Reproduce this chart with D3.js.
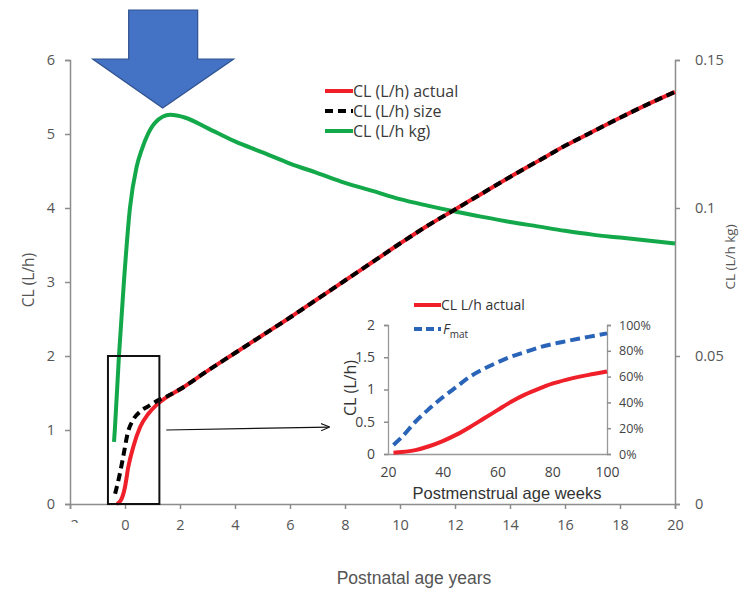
<!DOCTYPE html>
<html><head><meta charset="utf-8">
<script src="https://cdn.jsdelivr.net/npm/d3@7"></script>
<style>body{margin:0;background:#fff}svg{display:block}text{font-family:"Open Sans","Liberation Sans",sans-serif}</style>
</head><body><svg id="c" width="747" height="589"></svg>
<script>
// ---- main chart data ----
const actualAge = [-0.3,-0.15,0,0.12,0.3,0.55,0.85,1.15,1.5,2,3,4,5,6,7,8,9,10,11,12,13,14,15,16,17,18,19,20];
const actualCL  = [0,0.05,0.23,0.5,0.77,1.04,1.22,1.34,1.44,1.55,1.8,2.04,2.28,2.52,2.77,3.02,3.27,3.52,3.76,3.98,4.2,4.42,4.63,4.84,5.03,5.22,5.4,5.57];
const sizeAge = [-0.36,-0.18,-0.04,0.1,0.3,0.55,0.84,1.2,1.5,2,3,4,5,6,7,8,9,10,11,12,13,14,15,16,17,18,19,20];
const sizeCL  = [0.14,0.42,0.69,0.96,1.14,1.25,1.32,1.4,1.45,1.55,1.8,2.04,2.28,2.52,2.77,3.02,3.27,3.52,3.76,3.98,4.2,4.42,4.63,4.84,5.03,5.22,5.4,5.57];
const kgAge = [-0.4,-0.37,-0.22,-0.04,0.18,0.42,0.6,0.85,1.09,1.64,2.2,3,4,5,6,7,8,9,10,11,12,13,14,15,16,17,18,19,20];
const kgCL  = [0.021,0.025,0.05,0.075,0.1,0.1138,0.1195,0.1253,0.1288,0.1315,0.1305,0.127,0.1225,0.1188,0.115,0.1118,0.1085,0.1058,0.103,0.1008,0.0988,0.097,0.0953,0.0938,0.0923,0.091,0.09,0.089,0.088];
const xTicks = [-2,0,2,4,6,8,10,12,14,16,18,20];
const yLeftTicks = [0,1,2,3,4,5,6];
const yRightTicks = [0,0.05,0.1,0.15];
const legendLabels = ["CL (L/h) actual","CL (L/h) size","CL (L/h kg)"];
// ---- inset data ----
const pmaWeeks = [22,25,30,35,40,45,50,55,60,65,70,75,80,85,90,95,100];
const insetCL  = [0.02,0.03,0.06,0.12,0.2,0.3,0.42,0.55,0.68,0.81,0.92,1.01,1.09,1.15,1.2,1.24,1.28];
const fmat     = [0.07,0.13,0.25,0.35,0.44,0.52,0.60,0.66,0.71,0.755,0.79,0.825,0.852,0.874,0.895,0.915,0.935];
const insetXTicks = [20,40,60,80,100];
const insetYTicks = [0,0.5,1,1.5,2];
const insetRTicks = [0,0.2,0.4,0.6,0.8,1];

const svg = d3.select("#c");
const defs = svg.append("defs");
const tc = "#555", ac = "#8c8c8c";

const x = d3.scaleLinear().domain([-2,20]).range([70,675]);
const yL = d3.scaleLinear().domain([0,6]).range([504,60]);
const yR = d3.scaleLinear().domain([0,0.15]).range([504,60]);

function styleAxis(g, fs, col){
  g.select(".domain").attr("stroke",ac).attr("stroke-width",1.5);
  g.selectAll(".tick line").attr("stroke",ac).attr("stroke-width",1.5);
  g.selectAll("text").attr("fill",col||tc).style("font-size",fs+"px").style("font-family","'Open Sans',sans-serif");
}

const gx = svg.append("g").attr("transform","translate(0,504)")
  .call(d3.axisBottom(x).tickValues(xTicks).tickSize(5).tickPadding(11).tickFormat(d3.format("d")));
styleAxis(gx,14.5);
// the -2 label is cut off in the original, only its top shows
defs.append("clipPath").attr("id","clipm2").append("rect").attr("x",-15).attr("y",15).attr("width",30).attr("height",4);
gx.selectAll(".tick").filter(d=>d===-2).select("text").attr("clip-path","url(#clipm2)");

const gyl = svg.append("g").attr("transform","translate(70,0)")
  .call(d3.axisLeft(yL).tickValues(yLeftTicks).tickSize(5).tickPadding(10).tickFormat(d3.format("d")));
styleAxis(gyl,14.5);
const gyr = svg.append("g").attr("transform","translate(675,0)")
  .call(d3.axisRight(yR).tickValues(yRightTicks).tickSize(5).tickPadding(15).tickFormat(d=>String(d)));
styleAxis(gyr,14.5);

svg.append("text").attr("transform","translate(34,280) rotate(-90)").attr("text-anchor","middle")
  .attr("fill",tc).style("font-size","15.5px").text("CL (L/h)");
svg.append("text").attr("transform","translate(735,257) rotate(-90)").attr("text-anchor","middle")
  .attr("fill",tc).style("font-size","13.5px").text("CL (L/h kg)");
svg.append("text").attr("x",414).attr("y",584).attr("text-anchor","middle")
  .attr("fill",tc).style("font-size","17.5px").style("font-family","'Liberation Sans',Arial,sans-serif").text("Postnatal age years");

// lines
const lineL = d3.line().x(d=>x(d[0])).y(d=>yL(d[1])).curve(d3.curveMonotoneX);
const lineR = d3.line().x(d=>x(d[0])).y(d=>yR(d[1])).curve(d3.curveMonotoneX);
const green="#13a84a", red="#f0202a";
svg.append("path").datum(kgAge.map((a,i)=>[a,kgCL[i]])).attr("d",lineR)
  .attr("fill","none").attr("stroke",green).attr("stroke-width",4);
svg.append("path").datum(actualAge.map((a,i)=>[a,actualCL[i]])).attr("d",lineL)
  .attr("fill","none").attr("stroke",red).attr("stroke-width",4);
svg.append("path").datum(sizeAge.map((a,i)=>[a,sizeCL[i]])).attr("d",lineL)
  .attr("fill","none").attr("stroke","#000").attr("stroke-width",4).attr("stroke-dasharray","8,5");

// legend
const legY=[91,111,131];
const legStyles=[{c:red,d:null},{c:"#000",d:"8,5"},{c:green,d:null}];
legendLabels.forEach((lab,i)=>{
  svg.append("line").attr("x1",325).attr("x2",353).attr("y1",legY[i]).attr("y2",legY[i])
    .attr("stroke",legStyles[i].c).attr("stroke-width",4).attr("stroke-dasharray",legStyles[i].d);
  svg.append("text").attr("x",353).attr("y",legY[i]+5.5).attr("fill","#3a3a3a").style("font-size","16px").text(lab);
});

// zoom box and pointer
svg.append("rect").attr("x",x(-0.62)).attr("y",yL(2)).attr("width",x(1.25)-x(-0.62)).attr("height",yL(0)-yL(2))
  .attr("fill","none").attr("stroke","#111").attr("stroke-width",2);
defs.append("marker").attr("id","ah").attr("viewBox","0 0 10 10").attr("refX",9).attr("refY",5)
  .attr("markerWidth",9).attr("markerHeight",9).attr("orient","auto").attr("markerUnits","userSpaceOnUse")
  .append("path").attr("d","M0,1 L10,5 L0,9").attr("fill","none").attr("stroke","#111").attr("stroke-width",1.3);
svg.append("line").attr("x1",x(1.5)).attr("y1",yL(1.0)).attr("x2",329).attr("y2",yL(1.04))
  .attr("stroke","#111").attr("stroke-width",1.2).attr("marker-end","url(#ah)");

// big blue arrow (annotation pointing at the peak)
const tx=x(1.37), ty=108;
const arrowPts=[[tx-34,10],[tx+35,10],[tx+35,59],[tx+71,59],[tx,ty],[tx-70,59],[tx-34,59]];
svg.append("polygon").attr("points",arrowPts.map(p=>p.join(",")).join(" "))
  .attr("fill","#4472c4").attr("stroke","#2f528f").attr("stroke-width",1.2);

// ---- inset ----
const ix = d3.scaleLinear().domain([20,100]).range([388,607]);
const iy = d3.scaleLinear().domain([0,2]).range([454,325]);
const iyr = d3.scaleLinear().domain([0,1]).range([454,325]);
const gix = svg.append("g").attr("transform","translate(0,454)")
  .call(d3.axisBottom(ix).tickValues(insetXTicks).tickSize(0).tickPadding(13));
styleAxis(gix,14,"#444");
const giy = svg.append("g").attr("transform","translate(388,0)")
  .call(d3.axisLeft(iy).tickValues(insetYTicks).tickSize(4).tickPadding(9).tickFormat(d=>String(d)));
styleAxis(giy,14,"#444");
const giyr = svg.append("g").attr("transform","translate(607,0)")
  .call(d3.axisRight(iyr).tickValues(insetRTicks).tickSize(4).tickPadding(8).tickFormat(d3.format(".0%")));
styleAxis(giyr,12.5,"#444");
[gix,giy,giyr].forEach(g=>{g.select(".domain").attr("stroke","#999").attr("stroke-width",1.3);});

svg.append("text").attr("transform","translate(356,388) rotate(-90)").attr("text-anchor","middle")
  .attr("fill","#333").style("font-size","16px").text("CL (L/h)");
svg.append("text").attr("x",507).attr("y",499).attr("text-anchor","middle")
  .attr("fill","#333").style("font-size","16.5px").style("font-family","'Liberation Sans',Arial,sans-serif").text("Postmenstrual  age weeks");

const il = d3.line().x(d=>ix(d[0])).y(d=>iy(d[1])).curve(d3.curveMonotoneX);
const ilr = d3.line().x(d=>ix(d[0])).y(d=>iyr(d[1])).curve(d3.curveMonotoneX);
const blue="#2a64b8";
svg.append("path").datum(pmaWeeks.map((w,i)=>[w,fmat[i]])).attr("d",ilr)
  .attr("fill","none").attr("stroke",blue).attr("stroke-width",4).attr("stroke-dasharray","10,5");
svg.append("path").datum(pmaWeeks.map((w,i)=>[w,insetCL[i]])).attr("d",il)
  .attr("fill","none").attr("stroke",red).attr("stroke-width",4);

svg.append("line").attr("x1",414).attr("x2",441).attr("y1",305).attr("y2",305).attr("stroke",red).attr("stroke-width",4);
svg.append("text").attr("x",441).attr("y",310).attr("fill","#333").style("font-size","14px").text("CL L/h actual");
svg.append("line").attr("x1",414).attr("x2",441).attr("y1",329).attr("y2",329).attr("stroke",blue).attr("stroke-width",4).attr("stroke-dasharray","8,4");
const ft = svg.append("text").attr("x",443).attr("y",334).attr("fill","#333").style("font-size","14px");
ft.append("tspan").style("font-style","italic").text("F");
ft.append("tspan").attr("dy",4).style("font-size","10px").text("mat");
</script></body></html>
